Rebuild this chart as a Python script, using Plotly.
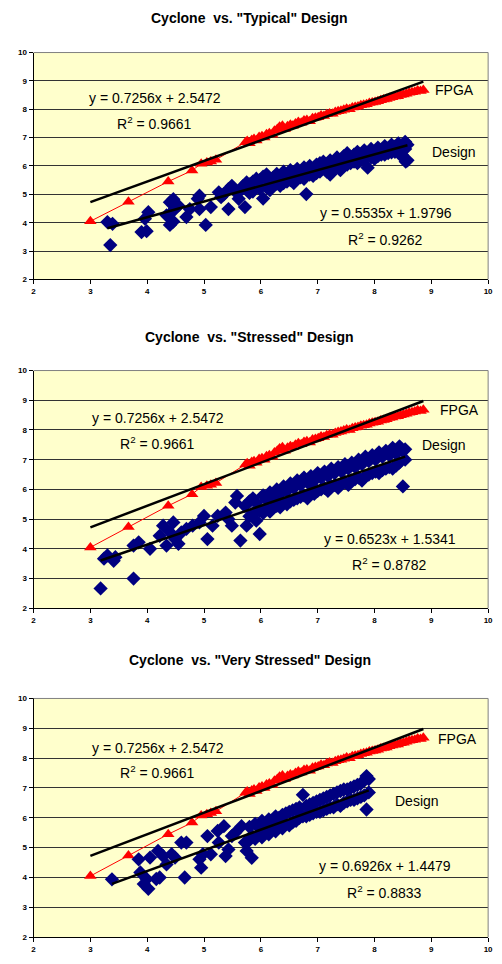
import plotly.graph_objects as go

# ---------------- data ----------------
fpga_x = [3.00, 3.67, 4.37, 4.79, 4.95, 5.05, 5.12, 5.21, 5.73, 5.76, 5.80, 5.84, 5.88, 5.92, 5.97,
          6.02, 6.06, 6.10, 6.15, 6.20, 6.24, 6.29, 6.33, 6.38, 6.42, 6.47, 6.52, 6.56, 6.61, 6.66,
          6.71, 6.76, 6.81, 6.86, 6.91, 6.96, 7.01, 7.06, 7.11, 7.16, 7.21, 7.26, 7.31, 7.36, 7.41,
          7.46, 7.51, 7.56, 7.61, 7.66, 7.71, 7.76, 7.81, 7.86, 7.91, 7.96, 8.01, 8.06, 8.11, 8.16,
          8.21, 8.26, 8.31, 8.36, 8.41, 8.46, 8.51, 8.56, 8.61, 8.66, 8.71, 8.76, 8.81, 8.86]
fpga_y = [4.05, 4.74, 5.45, 5.84, 6.08, 6.12, 6.16, 6.22, 6.84, 6.88, 6.80, 6.92, 6.95, 6.90, 7.02,
          7.05, 7.00, 7.12, 7.15, 7.10, 7.24, 7.30, 7.38, 7.42, 7.30, 7.40, 7.45, 7.42, 7.50, 7.55,
          7.52, 7.60, 7.62, 7.58, 7.68, 7.70, 7.72, 7.78, 7.76, 7.82, 7.85, 7.84, 7.90, 7.93, 7.95,
          7.98, 8.02, 8.00, 8.06, 8.08, 8.10, 8.14, 8.16, 8.18, 8.22, 8.24, 8.26, 8.28, 8.32, 8.34,
          8.36, 8.40, 8.42, 8.45, 8.46, 8.50, 8.52, 8.55, 8.58, 8.60, 8.62, 8.66, 8.64, 8.68]

typical_x = [3.30, 3.39, 3.35, 3.90, 3.99, 3.96, 4.02, 4.34, 4.40, 4.46, 4.40, 4.46, 4.49, 4.69, 4.75,
             4.89, 4.92, 4.92, 5.03, 5.12, 5.26, 5.43, 5.43, 5.49, 5.61, 5.69, 5.72, 5.75, 4.55, 4.42,
             5.35, 5.55, 5.30, 5.65,
             5.80, 5.80, 5.86, 5.86, 5.92, 5.92, 5.98, 5.98, 6.04, 6.04, 6.10, 6.10, 6.16, 6.16,
             6.22, 6.22, 6.28, 6.28, 6.34, 6.34, 6.40, 6.40, 6.46, 6.46, 6.52, 6.52, 6.58, 6.58,
             6.64, 6.64, 6.70, 6.70, 6.76, 6.76, 6.80, 6.80, 6.86, 6.86, 6.92, 6.92, 6.98, 6.98,
             7.04, 7.04, 7.10, 7.10, 7.16, 7.16, 7.22, 7.22, 7.28, 7.28, 7.34, 7.34, 7.40, 7.40,
             7.46, 7.46, 7.52, 7.52, 7.58, 7.58, 7.64, 7.64, 7.70, 7.70, 7.76, 7.76, 7.82, 7.82,
             7.88, 7.88, 7.94, 7.94, 8.00, 8.00, 8.06, 8.06, 8.12, 8.12, 8.18, 8.18, 8.24, 8.24,
             8.30, 8.30, 8.36, 8.36, 8.42, 8.42, 8.48, 8.48, 8.54, 8.54, 8.58, 8.58, 8.55, 8.50]
typical_y = [4.02, 3.96, 3.21, 3.67, 3.70, 4.14, 4.37, 4.26, 4.72, 4.83, 3.92, 4.04, 4.49, 4.20, 4.48,
             4.84, 4.95, 4.48, 3.92, 4.55, 5.07, 4.48, 5.18, 5.30, 4.84, 5.30, 4.55, 5.42, 4.60, 4.35,
             5.00, 5.10, 4.90, 5.15,
             5.35, 5.05, 5.45, 5.10, 5.30, 5.55, 5.20, 5.50, 5.62, 4.85, 5.70, 5.25, 5.45, 5.15,
             5.60, 5.30, 5.72, 5.38, 5.55, 5.30, 5.80, 5.40, 5.65, 5.45, 5.85, 5.50, 5.70, 5.40,
             5.90, 5.55, 5.80, 5.60, 5.95, 5.55, 5.01, 5.85, 6.00, 5.70, 5.90, 5.65, 6.05, 5.75,
             6.10, 5.80, 5.95, 6.15, 6.05, 5.80, 6.20, 5.70, 6.10, 5.90, 6.30, 5.95, 6.20, 5.85,
             6.35, 6.00, 6.45, 6.05, 6.30, 6.10, 6.40, 6.15, 6.50, 6.10, 6.35, 6.20, 6.55, 6.25,
             5.94, 6.45, 6.60, 6.30, 6.50, 6.25, 6.65, 6.35, 6.55, 6.40, 6.70, 6.40, 6.62, 6.45,
             6.75, 6.48, 6.68, 6.50, 6.80, 6.55, 6.72, 6.40, 6.85, 6.60, 6.75, 6.20, 6.15, 6.30]

stressed_x = [3.18, 3.76, 3.30, 3.41, 3.44, 3.24, 3.76, 3.85, 4.05, 4.22, 4.28, 4.34, 4.40, 4.46, 4.49,
              4.55, 4.60, 4.69, 4.80, 4.92, 5.00, 5.06, 5.15, 5.24, 5.38, 5.43, 5.49, 5.55, 5.58, 5.64,
              5.72, 5.75,
              5.80, 5.80, 5.86, 5.86, 5.92, 5.92, 5.98, 5.98, 6.04, 6.04, 6.10, 6.10, 6.16, 6.16,
              6.22, 6.22, 6.28, 6.28, 6.34, 6.34, 6.40, 6.40, 6.46, 6.46, 6.52, 6.52, 6.58, 6.58,
              6.64, 6.64, 6.70, 6.70, 6.76, 6.76, 6.82, 6.82, 6.88, 6.88, 6.94, 6.94, 7.00, 7.00,
              7.06, 7.06, 7.12, 7.12, 7.18, 7.18, 7.24, 7.24, 7.30, 7.30, 7.36, 7.36, 7.42, 7.42,
              7.48, 7.48, 7.54, 7.54, 7.60, 7.60, 7.66, 7.66, 7.72, 7.72, 7.78, 7.78, 7.84, 7.84,
              7.90, 7.90, 7.96, 7.96, 8.02, 8.02, 8.08, 8.08, 8.14, 8.14, 8.20, 8.20, 8.26, 8.26,
              8.32, 8.32, 8.38, 8.38, 8.44, 8.44, 8.50, 8.50, 8.54, 8.54, 6.86]
stressed_y = [2.67, 3.00, 3.78, 3.60, 3.72, 3.67, 4.11, 4.22, 4.00, 4.44, 4.78, 4.11, 4.56, 4.89, 4.33,
              4.17, 4.55, 4.67, 4.78, 4.89, 5.11, 4.33, 4.78, 5.11, 5.22, 5.00, 4.78, 5.56, 5.78, 4.28,
              5.44, 4.78,
              5.60, 5.10, 5.20, 5.70, 5.55, 4.95, 4.50, 5.30, 5.80, 5.20, 5.65, 5.35, 5.90, 5.25,
              5.75, 5.40, 6.00, 5.45, 5.85, 5.40, 6.10, 5.55, 5.95, 5.50, 6.20, 5.60, 6.05, 5.65,
              6.30, 5.70, 6.15, 5.75, 6.40, 5.80, 6.25, 5.70, 6.45, 5.90, 6.30, 5.85, 6.55, 5.95,
              6.40, 6.00, 6.60, 6.05, 6.45, 5.95, 6.70, 6.10, 6.55, 6.15, 6.75, 6.05, 6.60, 6.20,
              6.85, 6.25, 6.70, 6.15, 6.90, 6.30, 6.75, 6.35, 7.00, 6.40, 6.85, 6.30, 7.10, 6.45,
              6.95, 6.50, 7.15, 6.55, 7.00, 6.60, 7.25, 6.55, 7.10, 6.65, 7.30, 6.70, 7.15, 6.75,
              7.40, 6.70, 7.20, 6.80, 7.45, 6.90, 7.30, 6.10, 7.00, 7.35, 6.17]

very_x = [3.38, 3.85, 3.88, 3.94, 4.02, 3.99, 4.05, 4.19, 4.22, 4.16, 4.28, 4.34, 4.43, 4.49, 4.60,
          4.69, 4.66, 4.92, 4.95, 4.98, 5.06, 5.12, 5.24, 5.26, 5.35, 5.38, 5.43, 5.49, 5.55, 5.66,
          5.72, 5.75,
          5.80, 5.80, 5.84, 5.84, 5.90, 5.90, 5.96, 5.96, 6.02, 6.02, 6.08, 6.08, 6.14, 6.14,
          6.20, 6.20, 6.26, 6.26, 6.32, 6.32, 6.38, 6.38, 6.44, 6.44, 6.50, 6.50, 6.56, 6.56,
          6.62, 6.62, 6.68, 6.68, 6.74, 6.74, 6.80, 6.80, 6.86, 6.86, 6.92, 6.92, 6.98, 6.98,
          7.04, 7.04, 7.10, 7.10, 7.16, 7.16, 7.22, 7.22, 7.28, 7.28, 7.34, 7.34, 7.40, 7.40,
          7.46, 7.46, 7.52, 7.52, 7.58, 7.58, 7.64, 7.64, 7.70, 7.70, 7.76, 7.76, 7.82, 7.82,
          7.86, 7.86, 7.90, 7.90]
very_y = [3.94, 4.61, 4.17, 3.78, 3.62, 3.95, 4.67, 4.89, 4.00, 3.95, 4.72, 4.44, 4.78, 4.67, 5.17,
          5.17, 4.00, 4.61, 4.33, 4.78, 5.39, 4.78, 5.56, 5.17, 5.72, 4.72, 4.94, 5.39, 5.50, 5.72,
          5.17, 4.89,
          5.70, 5.25, 4.66, 5.40, 5.80, 5.30, 5.45, 5.75, 5.90, 5.35, 5.50, 5.80, 5.95, 5.45,
          5.60, 5.90, 6.05, 5.55, 5.70, 6.00, 6.10, 5.65, 5.80, 6.15, 6.20, 5.75, 5.85, 6.25,
          6.30, 5.90, 6.00, 6.35, 6.77, 6.05, 6.40, 6.05, 6.10, 6.45, 6.50, 6.15, 6.20, 6.55,
          6.60, 6.20, 6.25, 6.65, 6.70, 6.30, 6.35, 6.75, 6.80, 6.35, 6.45, 6.85, 6.90, 6.40,
          6.50, 6.95, 6.95, 6.55, 6.60, 7.00, 7.05, 6.60, 6.65, 7.10, 7.15, 6.70, 6.75, 7.25,
          7.40, 6.28, 7.30, 6.85]

titles = ['Cyclone  vs. "Typical" Design', 'Cyclone  vs. "Stressed" Design',
          'Cyclone  vs. "Very Stressed" Design']
fpga_fit = (0.7256, 2.5472, "0.9661")
design_fits = [(0.5535, 1.9796, "0.9262"), (0.6523, 1.5341, "0.8782"), (0.6926, 1.4479, "0.8833")]
designs = [(typical_x, typical_y), (stressed_x, stressed_y), (very_x, very_y)]
tick_vals = [2, 3, 4, 5, 6, 7, 8, 9, 10]

# ---------------- layout helpers ----------------
W, H = 502, 964
def px(x): return x / W
def py(y): return 1 - y / H

# plot area pixel boxes (left, top, right, bottom)
boxes = [(32, 49, 493, 278), (32, 370, 493, 610), (32, 701, 493, 942)]
title_y = [14, 336, 662]
fpga_eq_pos = [(155, 95, 120), (158, 418, 443), (158, 751, 775)]
fpga_lbl_pos = [(459, 87), (464, 410), (462, 742)]
design_lbl_pos = [(458, 149), (448, 445), (421, 805)]
design_eq_pos = [(389, 211, 237), (393, 540, 565), (388, 870, 896)]

fig = go.Figure()
layout = dict(width=W, height=H, margin=dict(l=0, r=0, t=0, b=0),
              paper_bgcolor="white", plot_bgcolor="#FFFFCC", showlegend=False)
annotations = []
shapes = []
BG = "#FFFFCC"
txtfont = dict(family="Arial, Liberation Sans", size=14, color="black")

for i in range(3):
    xa = "x" if i == 0 else f"x{i+1}"
    ya = "y" if i == 0 else f"y{i+1}"
    l, t, r, b = boxes[i]
    xkey = "xaxis" if i == 0 else f"xaxis{i+1}"
    ykey = "yaxis" if i == 0 else f"yaxis{i+1}"
    layout[xkey] = dict(domain=[px(l), px(r)], range=[2, 10], anchor=ya, tickvals=tick_vals,
                        showgrid=False, zeroline=False, showline=True, linecolor="black",
                        linewidth=1, ticks="outside", ticklen=4, tickcolor="black",
                        tickfont=dict(family="Arial", size=8, color="black", weight="bold"))
    layout[ykey] = dict(domain=[py(b), py(t)], range=[2, 10], anchor=xa, tickvals=tick_vals,
                        showgrid=True, gridcolor="#333333", gridwidth=1, zeroline=False,
                        showline=True, linecolor="black", linewidth=1, ticks="outside",
                        ticklen=4, tickcolor="black",
                        tickfont=dict(family="Arial", size=8, color="black", weight="bold"))
    shapes.append(dict(type="rect", xref="paper", yref="paper", x0=px(l), x1=px(r),
                       y0=py(b), y1=py(t), fillcolor=BG, line=dict(width=0), layer="below"))
    shapes.append(dict(type="line", xref="paper", yref="paper", x0=px(l), x1=px(r),
                       y0=py(t), y1=py(t), line=dict(color="#808080", width=1), layer="above"))
    shapes.append(dict(type="line", xref="paper", yref="paper", x0=px(r), x1=px(r),
                       y0=py(b), y1=py(t), line=dict(color="#808080", width=1), layer="above"))

    dx, dy = designs[i]
    fig.add_trace(go.Scatter(x=fpga_x, y=fpga_y, mode="lines+markers", xaxis=xa, yaxis=ya,
                             line=dict(color="#FF0000", width=1),
                             marker=dict(symbol="triangle-up", size=11, color="#FF0000")))
    fig.add_trace(go.Scatter(x=dx, y=dy, mode="markers", xaxis=xa, yaxis=ya,
                             marker=dict(symbol="diamond", size=11, color="#000080")))
    s, c, _ = fpga_fit
    x0, x1 = min(fpga_x), max(fpga_x)
    fig.add_trace(go.Scatter(x=[x0, x1], y=[s * x0 + c, s * x1 + c], mode="lines",
                             xaxis=xa, yaxis=ya, line=dict(color="black", width=2.5)))
    s, c, _ = design_fits[i]
    x0, x1 = min(dx), max(dx)
    fig.add_trace(go.Scatter(x=[x0, x1], y=[s * x0 + c, s * x1 + c], mode="lines",
                             xaxis=xa, yaxis=ya, line=dict(color="black", width=2.5)))

    annotations.append(dict(text=titles[i], x=0.5, y=py(title_y[i]), xref="paper", yref="paper",
                            showarrow=False, xanchor="center", yanchor="middle",
                            font=dict(family="Arial", size=14, color="black", weight="bold")))
    fx, fy1, fy2 = fpga_eq_pos[i]
    annotations.append(dict(text=f"y = {fpga_fit[0]}x + {fpga_fit[1]}", x=px(fx), y=py(fy1),
                            xref="paper", yref="paper", showarrow=False, font=txtfont,
                            xanchor="center", yanchor="middle"))
    annotations.append(dict(text=f"R<sup>2</sup> = {fpga_fit[2]}", x=px(fx), y=py(fy2),
                            xref="paper", yref="paper", showarrow=False, font=txtfont,
                            xanchor="center", yanchor="middle"))
    lx, ly = fpga_lbl_pos[i]
    annotations.append(dict(text="FPGA", x=px(lx), y=py(ly), xref="paper", yref="paper",
                            showarrow=False, font=txtfont, xanchor="center", yanchor="middle"))
    lx, ly = design_lbl_pos[i]
    annotations.append(dict(text="Design", x=px(lx), y=py(ly), xref="paper", yref="paper",
                            showarrow=False, font=txtfont, xanchor="center", yanchor="middle"))
    ex, ey1, ey2 = design_eq_pos[i]
    s, c, r2 = design_fits[i]
    annotations.append(dict(text=f"y = {s}x + {c}", x=px(ex), y=py(ey1), xref="paper",
                            yref="paper", showarrow=False, font=txtfont,
                            xanchor="center", yanchor="middle"))
    annotations.append(dict(text=f"R<sup>2</sup> = {r2}", x=px(ex), y=py(ey2), xref="paper",
                            yref="paper", showarrow=False, font=txtfont,
                            xanchor="center", yanchor="middle"))

layout["annotations"] = annotations
layout["shapes"] = shapes
fig.update_layout(**layout)
fig.write_html("out.html")
